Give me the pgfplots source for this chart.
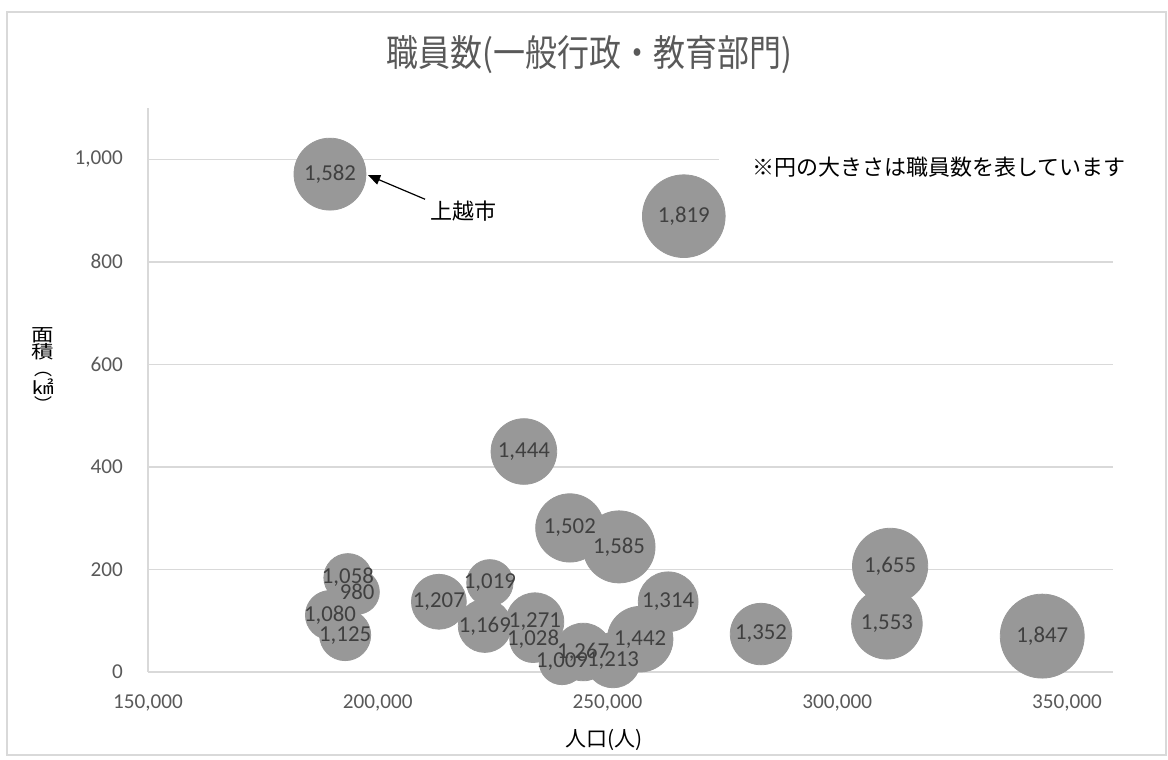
\documentclass[border=0pt]{standalone}
\usepackage{pgfplots}
\pgfplotsset{compat=1.18}
\usepackage{pgfplotstable}
\usepackage{fontspec}
\usepackage{graphicx}
\usetikzlibrary{arrows.meta}
\setmainfont{Carlito}
\newfontfamily\jp{Noto Sans CJK JP}
\definecolor{framec}{RGB}{217,217,217}
\definecolor{gridc}{RGB}{217,217,217}
\definecolor{ticktext}{RGB}{89,89,89}
\definecolor{labeltext}{RGB}{64,64,64}
\definecolor{bubble}{RGB}{152,152,152}

\pgfplotstableread{
x y s
189600 971 1582
266600 889 1819
231800 430 1444
241800 281 1502
252500 244 1585
311500 207 1655
310800 94 1553
344600 70 1847
283400 74 1352
263200 137 1314
257100 64 1442
244700 39 1267
240100 20 1009
251200 23 1213
233800 64 1028
234200 98 1271
223300 90 1169
224400 174 1019
213300 137 1207
193500 184 1058
195500 156 980
189600 111 1080
192900 72 1125
}\bubbles

\begin{document}
\begin{tikzpicture}
\useasboundingbox (0pt,0pt) rectangle (584pt,380pt);
\draw[framec, line width=0.75pt] (3.5pt,2.5pt) rectangle (583pt,374pt);
\begin{axis}[
  at={(74pt,44pt)}, anchor=south west,
  scale only axis, width=482.5pt, height=282pt,
  xmin=150000, xmax=360000, ymin=0, ymax=1100,
  scaled ticks=false,
  xtick={150000,200000,250000,300000,350000},
  xticklabels={{150,000},{200,000},{250,000},{300,000},{350,000}},
  ytick={0,200,400,600,800,1000},
  yticklabels={0,200,400,600,800,{1,000}},
  axis lines*=left,
  axis line style={draw=gridc, line width=0.75pt},
  ymajorgrids, grid style={draw=gridc, line width=0.75pt},
  major tick length=0pt,
  ticklabel style={font=\fontsize{10.6}{12}\selectfont, text=ticktext},
  xticklabel style={yshift=-8pt},
  yticklabel style={xshift=-9pt},
  every axis title/.style={at={(axis description cs:0.4576,1.094)}, anchor=center,
     font=\jp\fontsize{16}{19}\selectfont, text=ticktext},
  title={\scalebox{1}[1.15]{職員数(一般行政・教育部門)}},
  every axis x label/.style={at={(axis description cs:0.473,-0.1206)}, anchor=center,
     font=\jp\fontsize{10.5}{12}\selectfont, text=black},
  xlabel={人口(人)},
  every axis y label/.style={at={(axis description cs:-0.1087,0.5355)}, anchor=center,
     align=center, font=\jp\fontsize{9}{8.5}\selectfont, text=black},
  ylabel={\scalebox{1.25}[1]{面}\\\scalebox{1.25}[1]{積}\\︵\\\scalebox{1.2}[1]{㎢}\\︶},
]
\addplot[scatter, only marks, mark=*, color=bubble,
  mark options={fill=bubble, draw=bubble},
  point meta=explicit,
  visualization depends on={\thisrow{s} \as \bubsz},
  scatter/@pre marker code/.code={%
    \pgfmathsetmacro\bubr{0.01137*\bubsz}%
    \scope[mark size=\bubr pt, fill=bubble, draw=bubble]},
  scatter/@post marker code/.code={\endscope},
] table[x=x, y=y, meta=s] {\bubbles};
\addplot[only marks, mark=none,
  point meta=explicit,
  visualization depends on={\thisrow{s} \as \bubsz},
  nodes near coords={\pgfmathprintnumber[assume math mode=true, 1000 sep={,}, fixed, precision=0]{\bubsz}},
  every node near coord/.append style={anchor=center, inner sep=0pt,
     font=\fontsize{11.4}{13}\selectfont, text=labeltext, text opacity=1},
] table[x=x, y=y, meta=s] {\bubbles};
\draw[-{Triangle[length=6pt,width=5pt]}, line width=0.6pt, black]
  (axis cs:210300,922) -- (axis cs:197900,969);
\node[font=\jp\fontsize{11}{13}\selectfont, text=black] at (axis cs:218600,898) {上越市};
\end{axis}
\fill[white] (359.5pt,287.5pt) rectangle (575pt,307.5pt);
\node[anchor=west, inner sep=0pt, font=\jp\fontsize{11}{13}\selectfont, text=black]
  at (376pt,296.5pt) {※円の大きさは職員数を表しています};
\end{tikzpicture}
\end{document}
